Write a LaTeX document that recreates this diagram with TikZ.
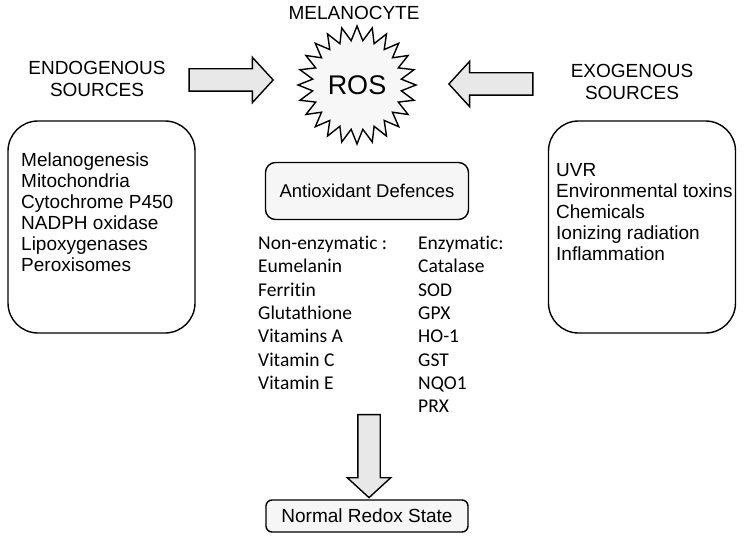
\documentclass[tikz,border=0pt]{standalone}
\usepackage{fontspec}
\setmainfont{Liberation Sans}
\newfontfamily\calfont{Carlito}[Ligatures={NoCommon}]
\usetikzlibrary{shapes.geometric, shapes.arrows}

\tikzset{
  srcbox/.style={draw, line width=1.4pt, rounded corners=30pt,
    minimum width=187pt, minimum height=212pt},
  listtext/.style={align=left, inner sep=0pt,
    font=\fontsize{19}{21}\selectfont},
  titletext/.style={align=center, inner sep=0pt,
    font=\fontsize{19}{22}\selectfont},
  coltext/.style={align=left, inner sep=0pt,
    font=\calfont\fontsize{19.5}{23.3}\selectfont},
  greybox/.style={draw, line width=1.4pt, fill=gray!7, minimum width=203pt},
  blockarrow/.style={single arrow, draw, line width=1.4pt, fill=gray!18,
    minimum height=84pt, minimum width=44pt, inner xsep=0pt, inner ysep=10.5pt,
    single arrow head extend=11.5pt, single arrow tip angle=95}
}

\begin{document}
\begin{tikzpicture}[x=1pt, y=-1pt]
  \useasboundingbox (0,0) rectangle (749,540);

  % Melanocyte and ROS
  \node[titletext] (melano) at (354,13) {MELANOCYTE};
  \node[star, star points=24, star point ratio=1.32, draw, line width=1.4pt,
    fill=gray!6, minimum size=118pt, inner sep=0pt,
    font=\fontsize{27}{30}\selectfont] (ros) at (357,85) {ROS};

  % Sources
  \node[titletext] (endotitle) at (97,79) {ENDOGENOUS\\SOURCES};
  \node[titletext] (exotitle) at (632,82) {EXOGENOUS\\SOURCES};

  % Arrows into ROS
  \node[blockarrow] (endoarrow) at (226,80) {};
  \node[blockarrow, rotate=180] (exoarrow) at (496,84) {};

  % Source boxes
  \node[srcbox] (endobox) at (101.5,227) {};
  \node[listtext, anchor=north west] (endolist) at (21,153)
    {Melanogenesis\\Mitochondria\\Cytochrome P450\\NADPH oxidase\\Lipoxygenases\\Peroxisomes};
  \node[srcbox] (exobox) at (642,227) {};
  \node[listtext, anchor=north west] (exolist) at (556,163)
    {UVR\\Environmental toxins\\Chemicals\\Ionizing radiation\\Inflammation};

  % Antioxidant defences
  \node[greybox, rounded corners=10pt, minimum height=57pt,
    font=\fontsize{18.5}{22}\selectfont] (antiox) at (367,191) {Antioxidant Defences};
  \node[coltext, anchor=north west] (nonenz) at (258,236)
    {Non-enzymatic :\\Eumelanin\\Ferritin\\Glutathione\\Vitamins A\\Vitamin C\\Vitamin E};
  \node[coltext, anchor=north west] (enz) at (418,236)
    {Enzymatic:\\Catalase\\SOD\\GPX\\HO-1\\GST\\NQO1\\PRX};

  % Result
  \node[blockarrow, rotate=-90, minimum height=83pt, minimum width=43pt,
    single arrow head extend=10.5pt] (downarrow) at (369,451) {};
  \node[greybox, rounded corners=6pt, minimum width=202pt, minimum height=32pt,
    font=\fontsize{19}{22}\selectfont] (redox) at (367,516) {Normal Redox State};

\end{tikzpicture}
\end{document}
